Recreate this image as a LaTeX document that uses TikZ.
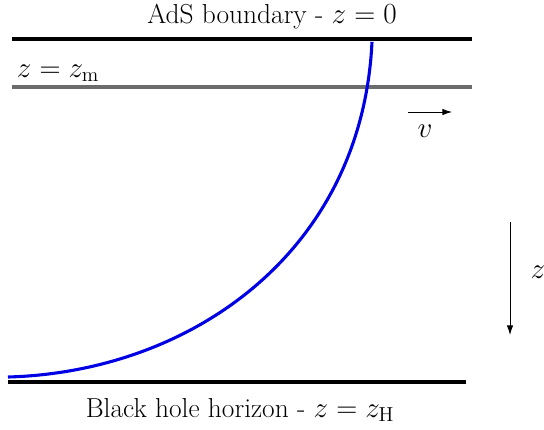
\documentclass[tikz,border=0pt]{standalone}
\usetikzlibrary{arrows.meta}
\begin{document}
\begin{tikzpicture}[font=\fontsize{19.5}{23}\selectfont,
    wall/.style={line width=2.6pt},
    slice/.style={line width=2.2pt, gray!85!black},
    probe/.style={line width=2.2pt, blue!90!black},
    axisarrow/.style={-{Latex[length=2.4mm,width=1.6mm]}, line width=0.6pt}]
            \useasboundingbox (0,0) rectangle (13.6,10.725);
            \draw[wall] (0.3,9.75) -- (11.8,9.75);
            \draw[slice] (0.3,8.55) -- (11.8,8.55);
            \draw[wall] (0.2,1.175) -- (11.65,1.175);
            \coordinate (tip) at (9.3,9.68);
            \coordinate (tail) at (0.2,1.3);
            \draw[probe] (tip) .. controls (9.05,4.4) and (4.75,1.425) .. (tail);
            \node (bdy) at (6.8,10.32) {AdS boundary - $z=0$};
            \node (hor) at (6.0,0.48) {Black hole horizon - $z=z_{\mathrm{H}}$};
            \node[anchor=west] (zm) at (0.3,8.9) {$z=z_{\mathrm{m}}$};
            \coordinate (v1) at (10.2,7.925);
            \coordinate (v2) at (11.3,7.925);
            \draw[axisarrow] (v1) -- (v2);
            \node (vlab) at (10.625,7.45) {$v$};
            \coordinate (z1) at (12.75,5.175);
            \coordinate (z2) at (12.75,2.35);
            \draw[axisarrow] (z1) -- (z2);
            \node (zlab) at (13.45,3.925) {$z$};
        \end{tikzpicture}
\end{document}
